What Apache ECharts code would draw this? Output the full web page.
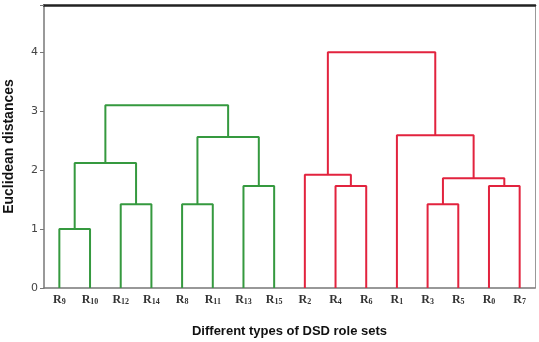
<!DOCTYPE html>
<html>
<head>
<meta charset="utf-8">
<script src="https://cdn.jsdelivr.net/npm/echarts@6/dist/echarts.min.js"></script>
<style>html,body{margin:0;padding:0;background:#fff}#c{width:539px;height:342px}</style>
</head>
<body>
<div id="c"></div>
<script>
// Leaf order (subscripts of R)
var leafLabels = ['9','10','12','14','8','11','13','15','2','4','6','1','3','5','0','7'];
// Merges: [left node, right node, height]; nodes 0..15 leaves, 16+ clusters in order
var mergeLeft   = [0, 2, 4, 6, 16, 18, 20, 9, 8, 12, 14, 25, 11, 24];
var mergeRight  = [1, 3, 5, 7, 17, 19, 21, 10, 23, 13, 15, 26, 27, 28];
var mergeHeight = [1.00, 1.42, 1.42, 1.73, 2.12, 2.56, 3.10, 1.73, 1.92, 1.42, 1.73, 1.86, 2.59, 4.00];
var mergeGroup  = ['g','g','g','g','g','g','g','r','r','r','r','r','r','r'];
var yTicks = [0, 1, 2, 3, 4];

var colors = {g: '#35993f', r: '#e2233e'};
var nodeX = [], nodeY = [];
for (var i = 0; i < leafLabels.length; i++) { nodeX.push(5 + 10 * i); nodeY.push(0); }
var series = [];
for (var k = 0; k < mergeLeft.length; k++) {
  var a = mergeLeft[k], b = mergeRight[k], h = mergeHeight[k];
  series.push({
    type: 'line', xAxisIndex: 0, yAxisIndex: 0, symbol: 'none', silent: true,
    lineStyle: {color: colors[mergeGroup[k]], width: 2},
    data: [[nodeX[a], nodeY[a]], [nodeX[a], h], [nodeX[b], h], [nodeX[b], nodeY[b]]]
  });
  nodeX.push((nodeX[a] + nodeX[b]) / 2);
  nodeY.push(h);
}
var leafPos = leafLabels.map(function (_, i) { return 5 + 10 * i; });

var chart = echarts.init(document.getElementById('c'), null, {renderer: 'canvas'});
chart.setOption({
  animation: false,
  grid: {left: 44, right: 4, top: 5, bottom: 54, containLabel: false, outerBoundsMode: 'none'},
  xAxis: [{
    type: 'value', min: 0, max: 160, position: 'bottom',
    splitLine: {show: false},
    axisLine: {lineStyle: {color: '#777', width: 1.5}},
    axisTick: {show: false},
    axisLabel: {
      customValues: leafPos, margin: 5,
      formatter: function (v) { var i = Math.round((v - 5) / 10); return '{r|R}{s|' + leafLabels[i] + '}'; },
      rich: {
        r: {fontFamily: 'Liberation Serif', fontWeight: 'bold', fontSize: 12, color: '#333'},
        s: {fontFamily: 'Liberation Serif', fontWeight: 'bold', fontSize: 8, color: '#333', padding: [5, 0, 0, 0]}
      }
    },
    name: 'Different types of DSD role sets', nameLocation: 'middle', nameGap: 37,
    nameTextStyle: {fontFamily: 'Liberation Sans', fontWeight: 'bold', fontSize: 13, color: '#111'}
  }, {
    type: 'value', min: 0, max: 160, position: 'top',
    splitLine: {show: false}, axisTick: {show: false}, axisLabel: {show: false},
    axisLine: {show: true, onZero: false, lineStyle: {color: '#222', width: 2.5}}
  }],
  yAxis: [{
    type: 'value', min: 0, max: 4.8, interval: 1,
    splitLine: {show: false},
    axisLine: {show: true, onZero: false, lineStyle: {color: '#777', width: 1.5}},
    axisTick: {show: true, length: 4, lineStyle: {color: '#777'}},
    axisLabel: {customValues: yTicks, margin: 6, fontFamily: 'DejaVu Sans', fontSize: 11, color: '#444'},
    name: 'Euclidean distances', nameLocation: 'middle', nameGap: 28,
    nameTextStyle: {fontFamily: 'Liberation Sans', fontWeight: 'bold', fontSize: 14, color: '#111'}
  }, {
    type: 'value', min: 0, max: 4.8, position: 'right',
    splitLine: {show: false}, axisTick: {show: false}, axisLabel: {show: false},
    axisLine: {show: true, onZero: false, lineStyle: {color: '#999', width: 1}}
  }],
  series: series
});
</script>
</body>
</html>
